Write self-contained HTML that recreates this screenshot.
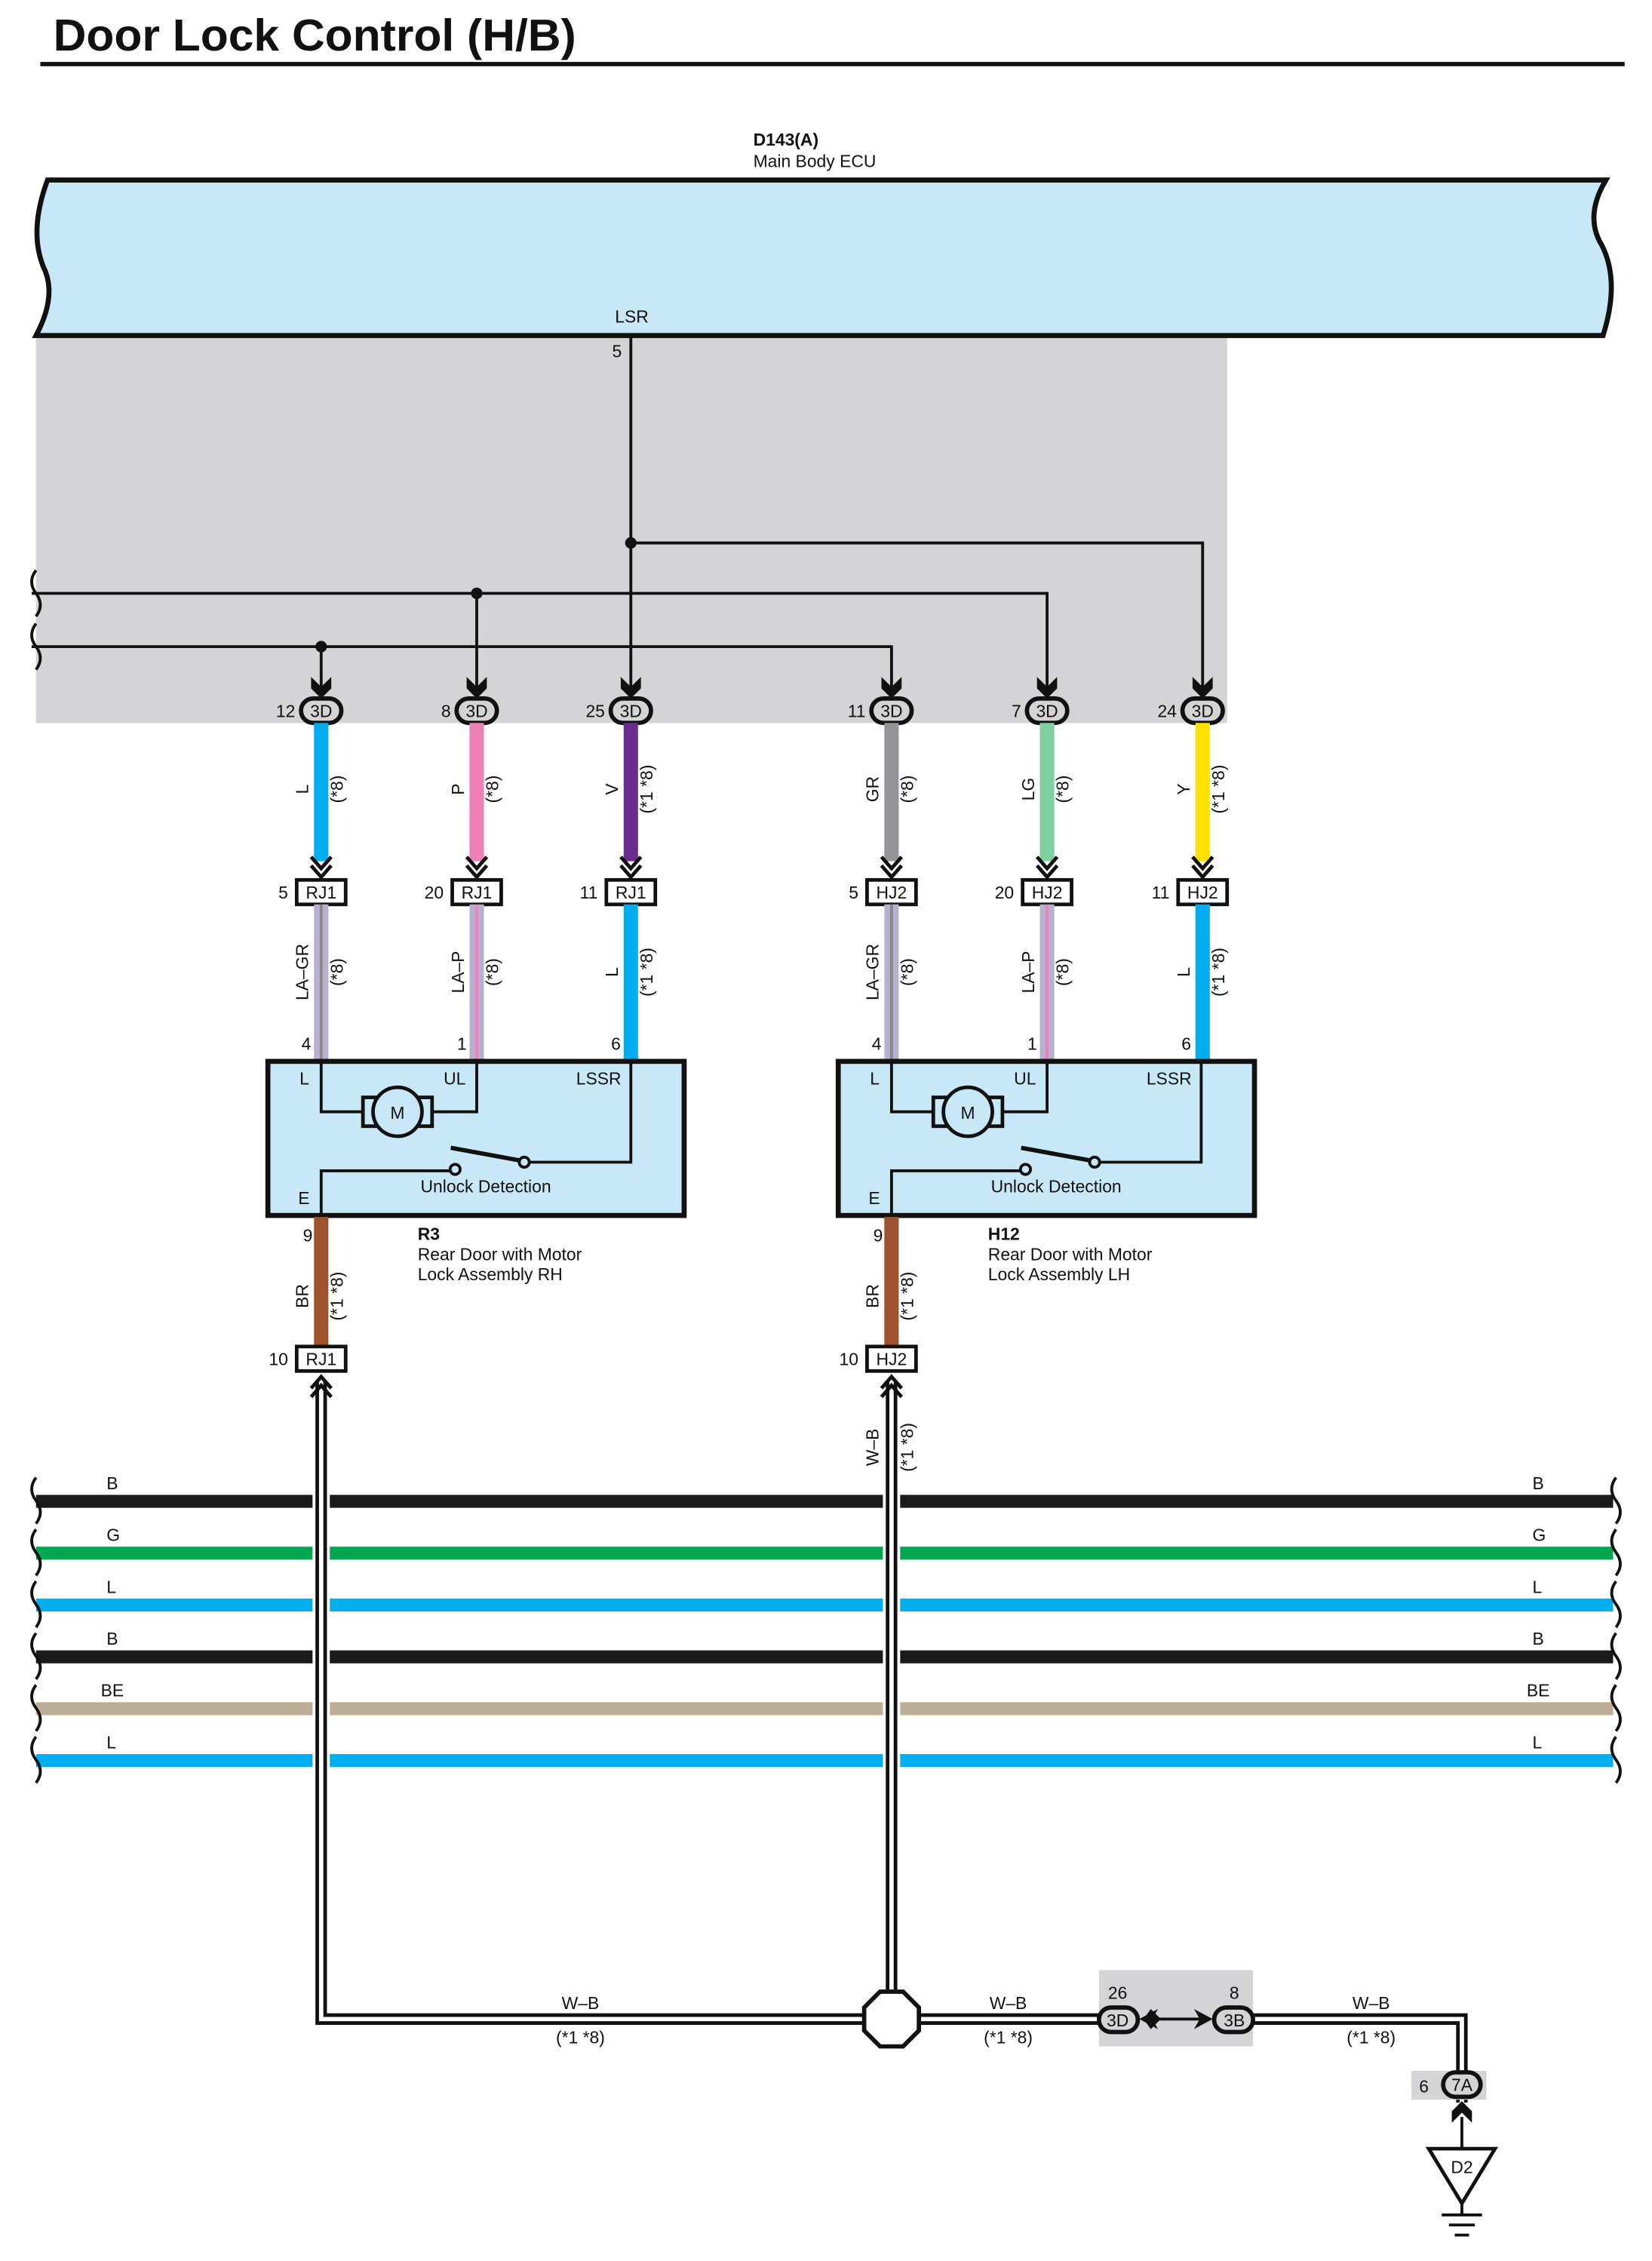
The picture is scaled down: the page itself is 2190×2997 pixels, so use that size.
<!DOCTYPE html>
<html><head><meta charset="utf-8"><style>
html,body{margin:0;padding:0;background:#fff;}
svg{display:block;}
text{font-family:"Liberation Sans",Arial,sans-serif;font-size:12px;fill:#111;}
.b{font-weight:bold;}
</style></head><body>
<svg width="2190" height="2997" viewBox="0 0 1147 1570" preserveAspectRatio="none" xmlns="http://www.w3.org/2000/svg">
<defs>
<polygon id="ad" points="-7,-15 0,-8 7,-15 7,-7 0,0 -7,-7" fill="#111"/>
<polygon id="au" points="-7,15 0,8 7,15 7,7 0,0 -7,7" fill="#111"/>
<g id="cdn"><path d="M-7,-13 L0,-5 L7,-13 M-7,-7 L0,1 L7,-7" stroke="#111" stroke-width="2.5" fill="none"/></g>
<g id="cup"><path d="M-7,13 L0,5 L7,13 M-7,7 L0,-1 L7,7" stroke="#111" stroke-width="2.5" fill="none"/></g>
</defs>
<text x="37" y="35" class="b" style="font-size:31px" textLength="363" lengthAdjust="spacingAndGlyphs">Door Lock Control (H/B)</text>
<rect x="28" y="43" width="1100" height="3" fill="#111"/>

<text x="523" y="101" class="b">D143(A)</text>
<text x="523" y="116">Main Body ECU</text>
<rect x="25" y="233" width="827" height="269" fill="#d4d4d6"/>
<path d="M33,125 L1115,125 Q1100,150 1112,170 Q1125,195 1113,233 L25,233 Q40,205 30,185 Q20,160 33,125 Z" fill="#c8e8f8" stroke="#111" stroke-width="3.5"/>
<text x="427" y="224">LSR</text>
<text x="425" y="248">5</text>

<g stroke="#111" stroke-width="2" fill="none">
<path d="M438,233 V480"/>
<path d="M438,377 H835 V480"/>
<path d="M22,412 H727 V480 M331,412 V480"/>
<path d="M22,449 H619 V480 M223,449 V480"/>
<path d="M25,396 q-6,8 0,16 q6,8 0,16 M25,433 q-6,8 0,16 q6,8 0,16"/>
</g>
<circle cx="438" cy="377" r="4" fill="#111"/>
<circle cx="331" cy="412" r="4" fill="#111"/>
<circle cx="223" cy="449" r="4" fill="#111"/>

<g>
<use href="#ad" x="223" y="485"/><use href="#ad" x="331" y="485"/><use href="#ad" x="438" y="485"/>
<use href="#ad" x="619" y="485"/><use href="#ad" x="727" y="485"/><use href="#ad" x="835" y="485"/>
</g>
<g fill="#d4d4d6" stroke="#111" stroke-width="3">
<rect x="209" y="485" width="28" height="17" rx="8.5"/><rect x="317" y="485" width="28" height="17" rx="8.5"/><rect x="424" y="485" width="28" height="17" rx="8.5"/>
<rect x="605" y="485" width="28" height="17" rx="8.5"/><rect x="713" y="485" width="28" height="17" rx="8.5"/><rect x="821" y="485" width="28" height="17" rx="8.5"/>
</g>
<g text-anchor="middle">
<text x="223" y="498">3D</text><text x="331" y="498">3D</text><text x="438" y="498">3D</text>
<text x="619" y="498">3D</text><text x="727" y="498">3D</text><text x="835" y="498">3D</text>
</g>
<g text-anchor="end">
<text x="205" y="498">12</text><text x="313" y="498">8</text><text x="420" y="498">25</text>
<text x="601" y="498">11</text><text x="709" y="498">7</text><text x="817" y="498">24</text>
</g>

<rect x="218" y="502" width="10" height="96" fill="#00aeef"/>
<rect x="326" y="502" width="10" height="96" fill="#f080b8"/>
<rect x="433" y="502" width="10" height="96" fill="#6a2c91"/>
<rect x="614" y="502" width="10" height="96" fill="#939598"/>
<rect x="722" y="502" width="10" height="96" fill="#7fcf9f"/>
<rect x="830" y="502" width="10" height="96" fill="#ffe000"/>
<g text-anchor="middle">
<text transform="translate(214,548) rotate(-90)">L</text><text transform="translate(238,548) rotate(-90)">(*8)</text>
<text transform="translate(322,548) rotate(-90)">P</text><text transform="translate(346,548) rotate(-90)">(*8)</text>
<text transform="translate(429,548) rotate(-90)">V</text><text transform="translate(453,548) rotate(-90)">(*1 *8)</text>
<text transform="translate(610,548) rotate(-90)">GR</text><text transform="translate(634,548) rotate(-90)">(*8)</text>
<text transform="translate(718,548) rotate(-90)">LG</text><text transform="translate(742,548) rotate(-90)">(*8)</text>
<text transform="translate(826,548) rotate(-90)">Y</text><text transform="translate(850,548) rotate(-90)">(*1 *8)</text>
</g>
<use href="#cdn" x="223" y="608"/><use href="#cdn" x="331" y="608"/><use href="#cdn" x="438" y="608"/>
<use href="#cdn" x="619" y="608"/><use href="#cdn" x="727" y="608"/><use href="#cdn" x="835" y="608"/>
<g fill="#fff" stroke="#111" stroke-width="2.5">
<rect x="206" y="611" width="34" height="17"/><rect x="314" y="611" width="34" height="17"/><rect x="421" y="611" width="34" height="17"/>
<rect x="602" y="611" width="34" height="17"/><rect x="710" y="611" width="34" height="17"/><rect x="818" y="611" width="34" height="17"/>
</g>
<g text-anchor="middle">
<text x="223" y="624">RJ1</text><text x="331" y="624">RJ1</text><text x="438" y="624">RJ1</text>
<text x="619" y="624">HJ2</text><text x="727" y="624">HJ2</text><text x="835" y="624">HJ2</text>
</g>
<g text-anchor="end">
<text x="200" y="624">5</text><text x="308" y="624">20</text><text x="415" y="624">11</text>
<text x="596" y="624">5</text><text x="704" y="624">20</text><text x="812" y="624">11</text>
</g>

<rect x="218" y="628" width="10" height="108" fill="#b8b0d0"/><rect x="222" y="628" width="2" height="108" fill="#888"/>
<rect x="326" y="628" width="10" height="108" fill="#b8b0d0"/><rect x="330" y="628" width="2" height="108" fill="#f080b8"/>
<rect x="433" y="628" width="10" height="108" fill="#00aeef"/>
<rect x="614" y="628" width="10" height="108" fill="#b8b0d0"/><rect x="618" y="628" width="2" height="108" fill="#888"/>
<rect x="722" y="628" width="10" height="108" fill="#b8b0d0"/><rect x="726" y="628" width="2" height="108" fill="#f080b8"/>
<rect x="830" y="628" width="10" height="108" fill="#00aeef"/>
<g text-anchor="middle">
<text transform="translate(214,675) rotate(-90)">LA–GR</text><text transform="translate(238,675) rotate(-90)">(*8)</text>
<text transform="translate(322,675) rotate(-90)">LA–P</text><text transform="translate(346,675) rotate(-90)">(*8)</text>
<text transform="translate(429,675) rotate(-90)">L</text><text transform="translate(453,675) rotate(-90)">(*1 *8)</text>
<text transform="translate(610,675) rotate(-90)">LA–GR</text><text transform="translate(634,675) rotate(-90)">(*8)</text>
<text transform="translate(718,675) rotate(-90)">LA–P</text><text transform="translate(742,675) rotate(-90)">(*8)</text>
<text transform="translate(826,675) rotate(-90)">L</text><text transform="translate(850,675) rotate(-90)">(*1 *8)</text>
</g>
<g text-anchor="end">
<text x="216" y="729">4</text><text x="324" y="729">1</text><text x="431" y="729">6</text>
<text x="612" y="729">4</text><text x="720" y="729">1</text><text x="827" y="729">6</text>
</g>

<g id="comp">
<rect x="186" y="737" width="289" height="107" fill="#c8e8f8" stroke="#111" stroke-width="3.5"/>
<g stroke="#111" stroke-width="2" fill="none">
<path d="M223,737 V772 H256"/>
<path d="M296,772 H331 V737"/>
<path d="M223,844 V813 H313"/>
<path d="M367,807 H438 V737"/>
<path d="M313,797 L362,806" stroke-width="3"/>
</g>
<circle cx="316" cy="812" r="3.5" fill="#c8e8f8" stroke="#111" stroke-width="2"/>
<circle cx="364" cy="807" r="3.5" fill="#c8e8f8" stroke="#111" stroke-width="2"/>
<rect x="252" y="762" width="9" height="20" fill="#c8e8f8" stroke="#111" stroke-width="2.5"/>
<rect x="291" y="762" width="9" height="20" fill="#c8e8f8" stroke="#111" stroke-width="2.5"/>
<circle cx="276" cy="772" r="17" fill="#c8e8f8" stroke="#111" stroke-width="2.5"/>
<text x="276" y="777" text-anchor="middle">M</text>
<text x="208" y="753">L</text>
<text x="308" y="753">UL</text>
<text x="400" y="753">LSSR</text>
<text x="292" y="828">Unlock Detection</text>
<text x="207" y="836">E</text>
</g>
<use href="#comp" x="396" y="0"/>
<text x="217" y="862" text-anchor="end">9</text><text x="613" y="862" text-anchor="end">9</text>
<text x="290" y="861" class="b">R3</text>
<text x="290" y="875">Rear Door with Motor</text>
<text x="290" y="889">Lock Assembly RH</text>
<text x="686" y="861" class="b">H12</text>
<text x="686" y="875">Rear Door with Motor</text>
<text x="686" y="889">Lock Assembly LH</text>

<rect x="218" y="845" width="10" height="90" fill="#a0522d"/>
<rect x="614" y="845" width="10" height="90" fill="#a0522d"/>
<g text-anchor="middle">
<text transform="translate(214,900) rotate(-90)">BR</text><text transform="translate(238,900) rotate(-90)">(*1 *8)</text>
<text transform="translate(610,900) rotate(-90)">BR</text><text transform="translate(634,900) rotate(-90)">(*1 *8)</text>
</g>
<rect x="206" y="935" width="34" height="17" fill="#fff" stroke="#111" stroke-width="2.5"/>
<rect x="602" y="935" width="34" height="17" fill="#fff" stroke="#111" stroke-width="2.5"/>
<text x="223" y="948" text-anchor="middle">RJ1</text><text x="619" y="948" text-anchor="middle">HJ2</text>
<text x="200" y="948" text-anchor="end">10</text><text x="596" y="948" text-anchor="end">10</text>

<g>
<rect x="25" y="1038" width="1095" height="9" fill="#1a1a1a"/>
<rect x="25" y="1074" width="1095" height="9" fill="#00a650"/>
<rect x="25" y="1110" width="1095" height="9" fill="#00aeef"/>
<rect x="25" y="1146" width="1095" height="9" fill="#1a1a1a"/>
<rect x="25" y="1182" width="1095" height="9" fill="#bfae96"/>
<rect x="25" y="1218" width="1095" height="9" fill="#00aeef"/>
</g>
<g stroke="#111" stroke-width="2" fill="none">
<path d="M25,1026 q-6,8 0,16 q6,8 0,16 M25,1062 q-6,8 0,16 q6,8 0,16 M25,1098 q-6,8 0,16 q6,8 0,16 M25,1134 q-6,8 0,16 q6,8 0,16 M25,1170 q-6,8 0,16 q6,8 0,16 M25,1206 q-6,8 0,16 q6,8 0,16"/>
<path d="M1122,1026 q-6,8 0,16 q6,8 0,16 M1122,1062 q-6,8 0,16 q6,8 0,16 M1122,1098 q-6,8 0,16 q6,8 0,16 M1122,1134 q-6,8 0,16 q6,8 0,16 M1122,1170 q-6,8 0,16 q6,8 0,16 M1122,1206 q-6,8 0,16 q6,8 0,16"/>
</g>
<g>
<text x="74" y="1034">B</text><text x="74" y="1070">G</text><text x="74" y="1106">L</text><text x="74" y="1142">B</text><text x="70" y="1178">BE</text><text x="74" y="1214">L</text>
<text x="1064" y="1034">B</text><text x="1064" y="1070">G</text><text x="1064" y="1106">L</text><text x="1064" y="1142">B</text><text x="1060" y="1178">BE</text><text x="1064" y="1214">L</text>
</g>

<rect x="217" y="1030" width="12" height="205" fill="#fff"/>
<rect x="613" y="1030" width="12" height="205" fill="#fff"/>
<g fill="none" stroke-linejoin="miter">
<path d="M223,960 V1402 H600" stroke="#111" stroke-width="8"/>
<path d="M223,960 V1402 H600" stroke="#fff" stroke-width="3"/>
<path d="M619,960 V1383" stroke="#111" stroke-width="8"/>
<path d="M619,960 V1383" stroke="#fff" stroke-width="3"/>
<path d="M638,1402 H790" stroke="#111" stroke-width="8"/>
<path d="M638,1402 H790" stroke="#fff" stroke-width="3"/>
<path d="M870,1402 H1015 V1460" stroke="#111" stroke-width="8"/>
<path d="M870,1402 H1015 V1460" stroke="#fff" stroke-width="3"/>
</g>
<use href="#cup" x="223" y="957"/><use href="#cup" x="619" y="957"/>
<text transform="translate(610,1005) rotate(-90)" text-anchor="middle">W–B</text>
<text transform="translate(634,1005) rotate(-90)" text-anchor="middle">(*1 *8)</text>
<polygon points="611,1383 627,1383 638,1394 638,1410 627,1421 611,1421 600,1410 600,1394" fill="#fff" stroke="#111" stroke-width="3"/>
<text x="403" y="1395" text-anchor="middle">W–B</text><text x="403" y="1419" text-anchor="middle">(*1 *8)</text>
<text x="700" y="1395" text-anchor="middle">W–B</text><text x="700" y="1419" text-anchor="middle">(*1 *8)</text>
<text x="952" y="1395" text-anchor="middle">W–B</text><text x="952" y="1419" text-anchor="middle">(*1 *8)</text>

<rect x="763" y="1368" width="107" height="53" fill="#d4d4d6"/>
<text x="776" y="1388" text-anchor="middle">26</text><text x="857" y="1388" text-anchor="middle">8</text>
<rect x="763" y="1394" width="27" height="17" rx="8.5" fill="#d4d4d6" stroke="#111" stroke-width="3"/>
<rect x="843" y="1394" width="27" height="17" rx="8.5" fill="#d4d4d6" stroke="#111" stroke-width="3"/>
<text x="776" y="1407" text-anchor="middle">3D</text><text x="857" y="1407" text-anchor="middle">3B</text>
<path d="M800,1402 H835" stroke="#111" stroke-width="2"/>
<polygon points="791,1402 804,1395 800,1402 804,1409" fill="#111"/>
<polygon points="799,1395 806,1402 799,1409 794,1402" fill="#111"/>
<polygon points="842,1402 829,1395 833,1402 829,1409" fill="#111"/>

<rect x="980" y="1438" width="52" height="20" fill="#d4d4d6"/>
<text x="992" y="1453" text-anchor="end">6</text>
<rect x="1002" y="1439" width="26" height="17" rx="8.5" fill="#d4d4d6" stroke="#111" stroke-width="3"/>
<text x="1015" y="1452" text-anchor="middle">7A</text>
<use href="#au" x="1015" y="1459"/>
<path d="M1015,1470 V1492" stroke="#111" stroke-width="2"/>
<polygon points="992,1492 1038,1492 1015,1530" fill="#fff" stroke="#111" stroke-width="2.5"/>
<text x="1015" y="1509" text-anchor="middle">D2</text>
<path d="M1015,1530 V1538 M1001,1538 H1029 M1006,1545 H1024 M1010,1552 H1020" stroke="#111" stroke-width="2"/>
</svg>
</body></html>
